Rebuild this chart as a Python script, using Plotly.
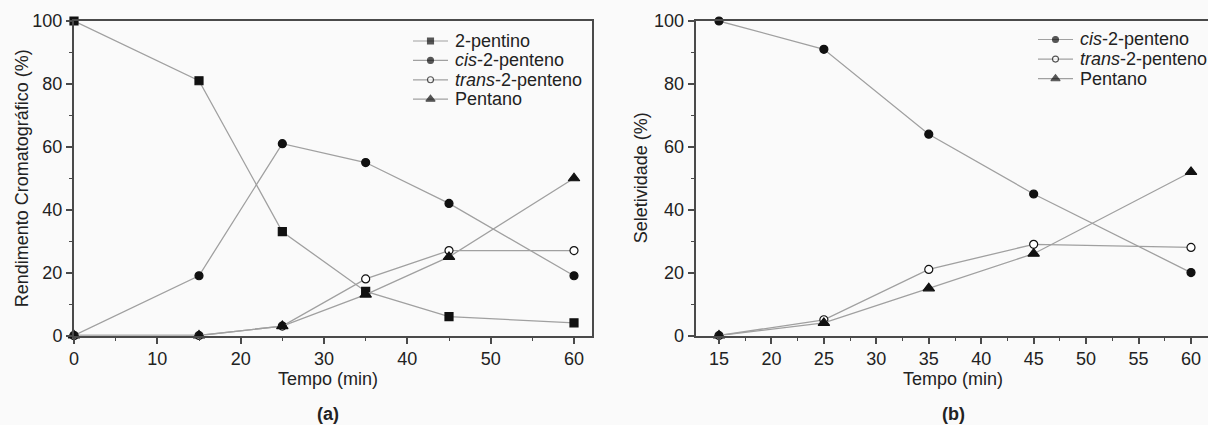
import plotly.graph_objects as go

# ---- data -------------------------------------------------------------
# (a) chromatographic yield vs time
tempo_a = [0, 15, 25, 35, 45, 60]
pentino_a = [100, 81, 33, 14, 6, 4]
cis_a = [0, 19, 61, 55, 42, 19]
trans_a = [0, 0, 3, 18, 27, 27]
pentano_a = [0, 0, 3, 13, 25, 50]

# (b) selectivity vs time
tempo_b = [15, 25, 35, 45, 60]
cis_b = [100, 91, 64, 45, 20]
trans_b = [0, 5, 21, 29, 28]
pentano_b = [0, 4, 15, 26, 52]

names_a = ["2-pentino", "<i>cis</i>-2-penteno", "<i>trans</i>-2-penteno", "Pentano"]
names_b = ["<i>cis</i>-2-penteno", "<i>trans</i>-2-penteno", "Pentano"]

ticks_a = [0, 10, 20, 30, 40, 50, 60]
ticks_b = [15, 20, 25, 30, 35, 40, 45, 50, 55, 60]
ticks_y = [0, 20, 40, 60, 80, 100]

# ---- styling ----------------------------------------------------------
W, H = 1208, 425
BG = "#fafafa"
LINE = "#a0a0a0"
MARK = "#111111"
AXIS = "#4a4a4a"
TXT = "#222222"
FONT = "Liberation Sans, Arial, sans-serif"

STYLE = {
    "2-pentino": ("square", 8, MARK),
    "cis": ("circle", 8, MARK),
    "trans": ("circle", 8, "#ffffff"),
    "Pentano": ("triangle-up", 10, MARK),
}


def style_for(name):
    for key, val in STYLE.items():
        if key in name:
            return val


fig = go.Figure()


def add(x, y, name, xa, ya):
    symbol, size, fill = style_for(name)
    fig.add_trace(go.Scatter(
        x=x, y=y, name=name, mode="lines+markers", showlegend=False,
        xaxis=xa, yaxis=ya, cliponaxis=False,
        line=dict(color=LINE, width=1.3),
        marker=dict(symbol=symbol, size=size, color=fill,
                    line=dict(color=MARK, width=1.2)),
    ))


for ys, nm in zip([pentino_a, cis_a, trans_a, pentano_a], names_a):
    add(tempo_a, ys, nm, "x", "y")
for ys, nm in zip([cis_b, trans_b, pentano_b], names_b):
    add(tempo_b, ys, nm, "x2", "y2")

# plot areas in pixels
L1, R1 = 74, 591.5
L2, R2 = 695.7, 1208
TOP, BOT = 21, 335.5


def px_x(p):
    return p / W


def px_y(p):
    return (H - p) / H


def minor(dt):
    return dict(dtick=dt, tick0=0, ticks="outside", ticklen=3,
                tickwidth=1.2, tickcolor=AXIS)


common = dict(
    showline=True, linecolor=AXIS, linewidth=2, mirror=True,
    ticks="outside", ticklen=6, tickwidth=1.5, tickcolor=AXIS,
    showgrid=False, zeroline=False, automargin=False,
    tickfont=dict(family=FONT, size=18, color=TXT),
)

fig.update_layout(
    width=W, height=H, autosize=False,
    margin=dict(l=0, r=0, t=0, b=0, pad=0, autoexpand=False),
    paper_bgcolor=BG, plot_bgcolor="rgba(0,0,0,0)",
    font=dict(family=FONT, size=18, color=TXT),
    showlegend=False,
    xaxis=dict(common, domain=[px_x(L1), px_x(R1)], range=[0, 62.1],
               tickvals=ticks_a, minor=minor(5), anchor="y"),
    yaxis=dict(common, domain=[px_y(BOT), px_y(TOP)], range=[0, 100],
               tickvals=ticks_y, minor=minor(10), anchor="x"),
    xaxis2=dict(common, domain=[px_x(L2), px_x(R2)], range=[12.78, 61.62],
                tickvals=ticks_b, minor=minor(2.5), anchor="y2"),
    yaxis2=dict(common, domain=[px_y(BOT), px_y(TOP)], range=[0, 100],
                mirror=False, tickvals=ticks_y, minor=minor(10), anchor="x2"),
    # pixel-space overlay used for the legend keys
    xaxis3=dict(domain=[0, 1], range=[0, W], visible=False, fixedrange=True,
                anchor="y3"),
    yaxis3=dict(domain=[0, 1], range=[H, 0], visible=False, fixedrange=True,
                anchor="x3"),
)

annos = []


def legend_block(names, x0, y0, step):
    """Key sample (line + marker) and label for each series."""
    for i, nm in enumerate(names):
        symbol, size, fill = style_for(nm)
        yc = y0 + i * step
        fig.add_trace(go.Scatter(
            x=[x0, x0 + 17.5, x0 + 35], y=[yc, yc, yc],
            mode="lines+markers", xaxis="x3", yaxis="y3", showlegend=False,
            hoverinfo="skip", cliponaxis=False,
            line=dict(color=LINE, width=1.2),
            marker=dict(symbol=symbol, size=[0, size - 2, 0], color=fill,
                        line=dict(color=MARK, width=1.1)),
        ))
        annos.append(dict(text=nm, x=px_x(x0 + 40), y=px_y(yc),
                          xanchor="left", yanchor="middle",
                          font=dict(size=18)))


legend_block(names_a, 413, 41, 19.4)
legend_block(names_b, 1038, 39.5, 19.6)

annos += [
    dict(text="Tempo (min)", x=px_x(328), y=px_y(379), font=dict(size=18)),
    dict(text="Tempo (min)", x=px_x(953), y=px_y(379), font=dict(size=18)),
    dict(text="<b>(a)</b>", x=px_x(328), y=px_y(414), font=dict(size=18)),
    dict(text="<b>(b)</b>", x=px_x(953), y=px_y(414), font=dict(size=18)),
    dict(text="Rendimento Cromatográfico (%)", x=px_x(22),
         y=px_y((TOP + BOT) / 2), textangle=-90, font=dict(size=18)),
    dict(text="Seletividade (%)", x=px_x(641), y=px_y((TOP + BOT) / 2),
         textangle=-90, font=dict(size=18)),
]
for a in annos:
    a.setdefault("xanchor", "center")
    a.setdefault("yanchor", "middle")
    a.update(xref="paper", yref="paper", showarrow=False)
    a["font"].update(family=FONT, color=TXT)
fig.update_layout(annotations=annos)

fig.write_html("out.html")
